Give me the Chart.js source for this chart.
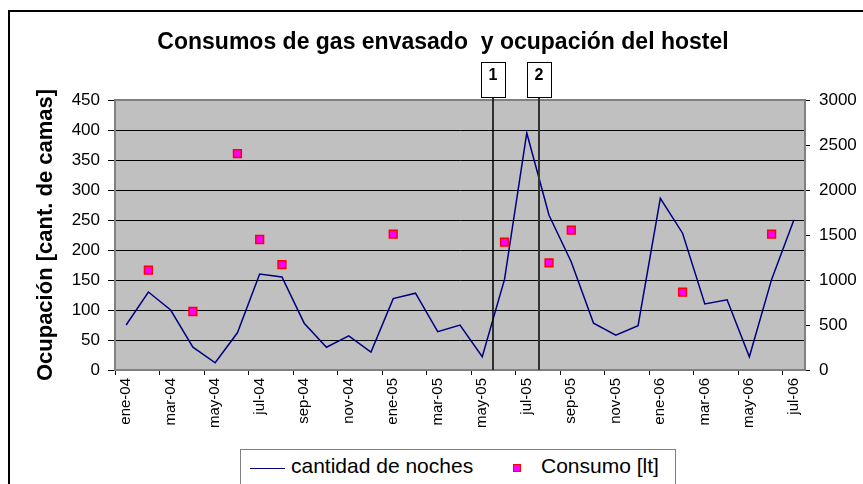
<!DOCTYPE html>
<html>
<head>
<meta charset="utf-8">
<script src="https://cdn.jsdelivr.net/npm/chart.js@4.4.1/dist/chart.umd.min.js"></script>
<style>
  body { margin: 0; background: #fff; font-family: "Liberation Sans", Arial, sans-serif; }
  #wrap { position: relative; width: 863px; height: 484px; overflow: hidden; }
  #chart { position: absolute; left: 0; top: 0; }
  #legend { position: absolute; left: 240px; top: 449px; width: 436px; height: 60px;
            border: 1px solid #808080; background: #fff; box-sizing: border-box; }
  #legend .sym-line { position: absolute; left: 9px; top: 18px; width: 35px; border-top: 1.5px solid #000080; }
  #legend .sym-box { position: absolute; left: 272px; top: 14px; width: 6px; height: 6px;
                     background: #ff00ff; border: 1px solid #ff0000; }
  #legend span { position: absolute; top: 4px; font-size: 21px; color: #000; white-space: nowrap; }
</style>
</head>
<body>
<div id="wrap">
  <canvas id="chart" width="863" height="484"></canvas>
  <div id="legend">
    <div class="sym-line"></div><span style="left:50px">cantidad de noches</span>
    <div class="sym-box"></div><span style="left:300px">Consumo [lt]</span>
  </div>
</div>
<script>
const meses = ["ene-04","feb-04","mar-04","abr-04","may-04","jun-04","jul-04","ago-04","sep-04","oct-04","nov-04","dic-04",
  "ene-05","feb-05","mar-05","abr-05","may-05","jun-05","jul-05","ago-05","sep-05","oct-05","nov-05","dic-05",
  "ene-06","feb-06","mar-06","abr-06","may-06","jun-06","jul-06"];

// ocupacion (cant. de camas) - eje izquierdo
const noches = [75, 130, 100, 38, 12, 62, 160, 155, 78, 38, 57, 30,
  119, 128, 64, 75, 22, 151, 395, 258, 180, 78, 58, 74,
  286, 228, 110, 117, 22, 151, 250];

// consumo de gas [lt] - eje derecho
const consumo = [null, 1110, null, 650, null, 2405, 1450, 1170, null, null, null, null,
  1510, null, null, null, null, 1420, null, 1190, 1555, null, null, null,
  null, 865, null, null, null, 1510, null];

// marcas 1 y 2 (despues de que mes)
const eventos = ["1", "2"];
const eventosDespues = ["may-05", "jul-05"];

const FONT = "'Liberation Sans', Arial, sans-serif";

const plotBg = {
  id: "plotBg",
  beforeDraw(chart) {
    const { ctx, chartArea: a } = chart;
    ctx.save();
    // borde exterior
    ctx.strokeStyle = "#000";
    ctx.lineWidth = 2;
    ctx.strokeRect(9, 11, 900, 500);
    ctx.fillStyle = "#c0c0c0";
    ctx.fillRect(a.left, a.top, a.right - a.left, a.bottom - a.top);
    ctx.restore();
  },
  afterDraw(chart) {
    const { ctx, chartArea: a, scales } = chart;
    ctx.save();
    ctx.strokeStyle = "#808080";
    ctx.lineWidth = 2;
    ctx.beginPath();
    ctx.moveTo(a.left, a.top);
    ctx.lineTo(a.right, a.top);
    ctx.lineTo(a.right, a.bottom);
    ctx.stroke();

    eventos.forEach((txt, i) => {
      const idx = meses.indexOf(eventosDespues[i]);
      const x = Math.round((scales.x.getPixelForValue(idx) + scales.x.getPixelForValue(idx + 1)) / 2) + i;
      ctx.strokeStyle = i === 0 ? "#000" : "#333";
      ctx.lineWidth = i === 0 ? 1.5 : 2;
      ctx.beginPath();
      ctx.moveTo(x, 97);
      ctx.lineTo(x, a.bottom);
      ctx.stroke();
      ctx.fillStyle = "#fff";
      ctx.fillRect(x - 12, 62, 24, 36);
      ctx.strokeStyle = "#000";
      ctx.lineWidth = 1;
      ctx.strokeRect(x - 12 + 0.5, 62.5, 24, 35);
      ctx.fillStyle = "#000";
      ctx.font = "bold 16px " + FONT;
      ctx.textAlign = "center";
      ctx.textBaseline = "alphabetic";
      ctx.fillText(txt, x, 80);
    });
    ctx.restore();
  }
};

new Chart(document.getElementById("chart"), {
  data: {
    labels: meses,
    datasets: [
      {
        type: "line",
        label: "cantidad de noches",
        data: noches,
        yAxisID: "y",
        borderColor: "#000080",
        borderWidth: 1.5,
        pointRadius: 0,
        tension: 0,
        order: 2
      },
      {
        type: "line",
        label: "Consumo [lt]",
        data: consumo,
        yAxisID: "y1",
        showLine: false,
        pointStyle: "rect",
        pointRadius: 5.5,
        pointBackgroundColor: "#ff00ff",
        pointBorderColor: "#ff0000",
        pointBorderWidth: 1.5,
        order: 1
      }
    ]
  },
  options: {
    responsive: false,
    animation: false,
    layout: { padding: { left: 23, right: 0, top: 0, bottom: 0 } },
    plugins: {
      legend: { display: false },
      tooltip: { enabled: false },
      title: {
        display: true,
        text: "Consumos de gas envasado  y ocupación del hostel",
        color: "#000",
        font: { family: FONT, size: 23, weight: "bold" },
        padding: { top: 28.5, bottom: 43.9 }
      }
    },
    scales: {
      x: {
        type: "category",
        offset: true,
        grid: {
          offset: true,
          drawOnChartArea: false,
          tickLength: 5,
          color: ctx => (ctx.index !== undefined && ctx.index % 2 === 0) ? "#000" : "rgba(0,0,0,0)"
        },
        border: { color: "#808080", width: 2 },
        ticks: {
          autoSkip: false,
          minRotation: 90,
          maxRotation: 90,
          padding: 3,
          color: "#000",
          font: { family: FONT, size: 15 },
          callback: function (val, index) {
            return index % 2 === 0 ? this.getLabelForValue(val) : "";
          }
        },
        afterFit: s => { s.height = 114; }
      },
      y: {
        position: "left",
        min: 0,
        max: 450,
        grid: { color: "#000", lineWidth: 1, tickLength: 7, tickColor: "#000" },
        border: { color: "#808080", width: 2 },
        ticks: { stepSize: 50, padding: 8, color: "#000", font: { family: FONT, size: 17 },
                 callback: v => String(v) },
        title: {
          display: true,
          text: "Ocupación [cant. de camas]",
          color: "#000",
          font: { family: FONT, size: 22, weight: "bold" },
          padding: { top: 10, bottom: 0 }
        },
        afterFit: s => { s.width = 92; }
      },
      y1: {
        position: "right",
        min: 0,
        max: 3000,
        grid: { drawOnChartArea: false, color: "#000", tickLength: 5 },
        border: { color: "#808080", width: 2 },
        ticks: { stepSize: 500, padding: 9, color: "#000", font: { family: FONT, size: 17 },
                 callback: v => String(v) },
        afterFit: s => { s.width = 58; }
      }
    }
  },
  plugins: [plotBg]
});
</script>
</body>
</html>
